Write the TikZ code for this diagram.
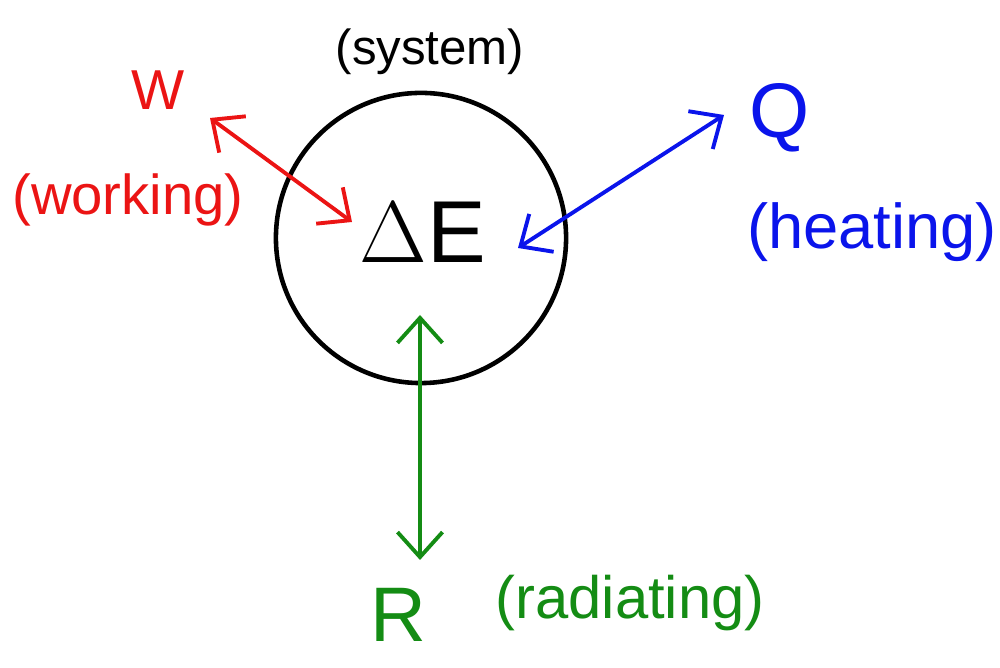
\documentclass[tikz,border=0pt]{standalone}
\usepackage{fontspec}
\setmainfont{Liberation Sans}
\usetikzlibrary{arrows.meta}
\definecolor{workred}{RGB}{235,20,20}
\definecolor{heatblue}{RGB}{10,20,235}
\definecolor{radgreen}{RGB}{20,140,20}
\begin{document}
\begin{tikzpicture}[x=0.01cm,y=-0.01cm,
    flow/.style={line width=1.1pt, {Straight Barb[length=2.5mm,width=4.5mm]}-{Straight Barb[length=2.5mm,width=4.5mm]}},
    lbl/.style={font=\fontsize{16}{18}\selectfont}]
    \useasboundingbox (0,0) rectangle (1000,668);

    % System
    \draw[line width=1.3pt] (421,238) circle[radius=1.45cm];
    \node[font=\fontsize{25}{30}\selectfont] (dE) at (423,232) {$\Delta$E};
    \node[font=\fontsize{14}{16}\selectfont] (sys) at (430,52) {(system)};

    % Labels
    \node[workred, font=\fontsize{16}{18}\selectfont] (W) at (158,90) {W};
    \node[workred, lbl] (wk) at (128,200) {(working)};
    \node[heatblue, font=\fontsize{22}{24}\selectfont] (Q) at (780,118) {Q};
    \node[heatblue, font=\fontsize{18}{20}\selectfont] (ht) at (872,232) {(heating)};
    \node[radgreen, font=\fontsize{22}{24}\selectfont] (R) at (398,615) {R};
    \node[radgreen, font=\fontsize{17}{19}\selectfont] (rd) at (630,603) {(radiating)};

    % Arrow ends
    \coordinate (wA) at (210,118);
    \coordinate (wB) at (352,222);
    \coordinate (qA) at (518,248);
    \coordinate (qB) at (724,115);
    \coordinate (rA) at (420,315);
    \coordinate (rB) at (420,560);

    % Flows
    \draw[flow, workred] (wA) -- (wB);
    \draw[flow, heatblue] (qA) -- (qB);
    \draw[flow, radgreen] (rA) -- (rB);
\end{tikzpicture}
\end{document}
